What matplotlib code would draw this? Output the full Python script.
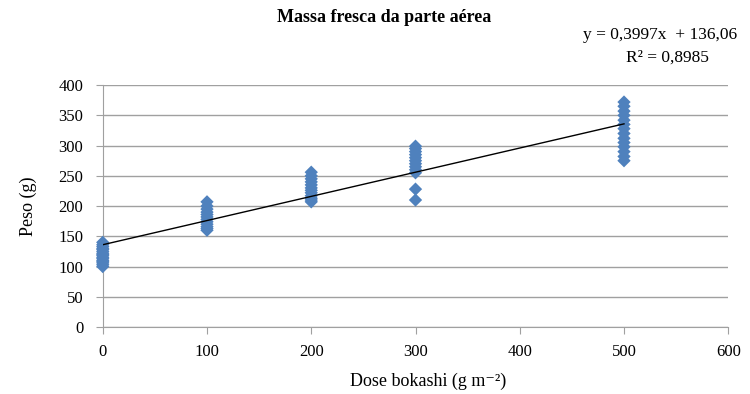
import numpy as np
import matplotlib.pyplot as plt

# dose bokashi (g m-2) and fresh mass (g)
dose_0 = [100, 103, 106, 108, 110, 113, 115, 118, 120, 122, 125, 128, 130, 133, 136, 140]
dose_100 = [160, 163, 166, 170, 174, 178, 182, 186, 190, 195, 200, 207]
dose_200 = [207, 210, 213, 217, 222, 226, 230, 235, 240, 245, 250, 256]
dose_300 = [210, 228, 255, 260, 265, 270, 275, 280, 285, 290, 295, 299]
dose_500 = [275, 282, 290, 298, 305, 312, 320, 328, 335, 342, 350, 357, 365, 372]

doses = [0, 100, 200, 300, 500]
pesos = [dose_0, dose_100, dose_200, dose_300, dose_500]

slope = 0.3997
intercept = 136.06
r2 = 0.8985

plt.rcParams['font.family'] = ['Liberation Serif', 'DejaVu Serif']

fig = plt.figure(figsize=(7.5, 3.94), dpi=100)
ax = fig.add_axes([0.137, 0.170, 0.834, 0.614])

for d, vals in zip(doses, pesos):
    ax.scatter([d] * len(vals), vals, marker='D', s=46, color='#4F81BD',
               edgecolors='none', zorder=3, clip_on=False)

xl = np.array([0, 500])
ax.plot(xl, slope * xl + intercept, color='black', lw=1.0, zorder=4)

ax.set_xlim(0, 600)
ax.set_ylim(0, 400)
ax.set_xticks(range(0, 601, 100))
ax.set_yticks(range(0, 401, 50))
ax.yaxis.grid(True, color='#A0A0A0', lw=1)
ax.set_axisbelow(True)
for s in ['top', 'right']:
    ax.spines[s].set_visible(False)
for s in ['left', 'bottom']:
    ax.spines[s].set_color('#A0A0A0')
ax.tick_params(axis='both', labelsize=12, color='#A0A0A0', length=5)
ax.tick_params(axis='x', pad=7)
ax.tick_params(axis='y', pad=9)

ax.set_xlabel('Dose bokashi (g m⁻²)', fontsize=13)
ax.xaxis.set_label_coords(0.52, -0.19)
ax.set_ylabel('Peso (g)', fontsize=13)
ax.yaxis.set_label_coords(-0.105, 0.5)
fig.text(0.512, 0.955, 'Massa fresca da parte aérea', ha='center', va='center',
         fontsize=13, fontweight='bold')
fig.text(0.88, 0.91, f'y = {slope:.4f}x  + {intercept:.2f}'.replace('.', ','),
         ha='center', va='center', fontsize=12.5)
fig.text(0.89, 0.853, f'R² = {r2:.4f}'.replace('.', ','),
         ha='center', va='center', fontsize=12.5)

fig.savefig('out.png', dpi=100)
